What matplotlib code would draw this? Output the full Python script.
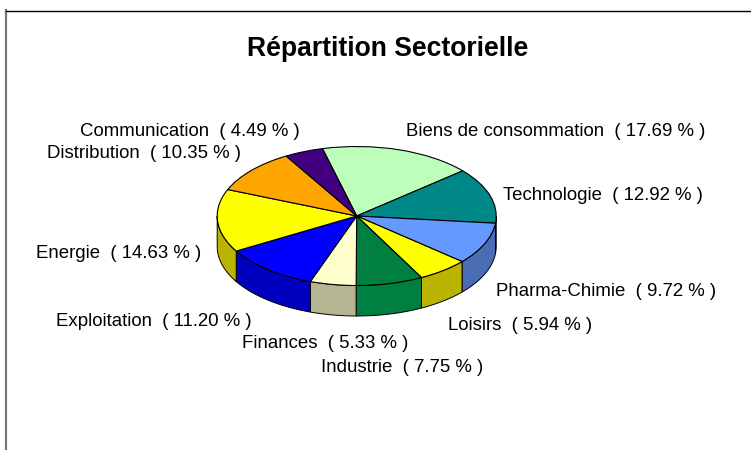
import numpy as np
import matplotlib
matplotlib.use("Agg")
from matplotlib import pyplot as plt

plt.rcParams['font.family'] = ['Liberation Sans', 'DejaVu Sans']

# Data
title = "Répartition Sectorielle"
sectors = ["Biens de consommation", "Technologie", "Pharma-Chimie", "Loisirs", "Industrie",
           "Finances", "Exploitation", "Energie", "Distribution", "Communication"]
shares = [17.69, 12.92, 9.72, 5.94, 7.75, 5.33, 11.20, 14.63, 10.35, 4.49]
top_colors = ["#BBFFBB", "#008888", "#6699FF", "#FFFF00", "#008040",
              "#FFFFCC", "#0000FF", "#FFFF00", "#FFA500", "#400080"]
side_colors = ["#8CBF8C", "#006666", "#4A6DB5", "#BAB400", "#008040",
               "#B5B592", "#0000BE", "#BAB400", "#BF7C00", "#300060"]
label_pos = [(406, 131), (503, 196), (496, 292), (448, 326), (321, 367),
             (242, 344), (56, 321), (36, 254), (47, 153), (80, 132)]

W, H = 751, 450
cx, cy = 356.7, 216.0
rx, ry = 139.5, 69.5
depth = 30.5
start = -14.2

fig = plt.figure(figsize=(W / 100, H / 100), dpi=100)
ax = fig.add_axes([0, 0, 1, 1])

# slanted disc: the unit circle of the pie is squashed by the axes limits
ax.pie(shares, startangle=90 - start, counterclock=False, colors=top_colors, radius=1,
       wedgeprops={"edgecolor": "black", "linewidth": 0.8, "zorder": 3})
ax.set_aspect('auto')
ax.set_xlim(-cx / rx, (W - cx) / rx)
ax.set_ylim((cy - H) / ry, cy / ry)
ax.axis('off')

# rim of the disc, front half only
drop = depth / ry
edges = start + np.cumsum([0] + shares) / sum(shares) * 360
for i in range(len(shares)):
    a, b = max(edges[i], 90), min(edges[i + 1], 270)
    if b <= a:
        continue
    t = np.radians(np.linspace(a, b, 60))
    x = np.sin(t)
    y = np.cos(t)
    ax.fill(np.r_[x, x[::-1]], np.r_[y, y[::-1] - drop], facecolor=side_colors[i],
            edgecolor="black", linewidth=0.7, zorder=2)

for name, val, (px, py) in zip(sectors, shares, label_pos):
    fig.text(px / W, 1 - py / H, "%s  ( %.2f %% )" % (name, val), fontsize=13.4,
             ha='left', va='center', color='black')

fig.text(388 / W, 1 - 49.5 / H, title, fontsize=19.1, fontweight='bold', ha='center', va='center')

# chart frame, open on the right and bottom
fig.add_artist(plt.Line2D([6.5 / W, 6.5 / W], [0, 1 - 10 / H], color='#777777', lw=1.6))
fig.add_artist(plt.Line2D([6 / W, 1], [1 - 10.5 / H, 1 - 10.5 / H], color='black', lw=1.0))

fig.savefig("out.png", dpi=100)
